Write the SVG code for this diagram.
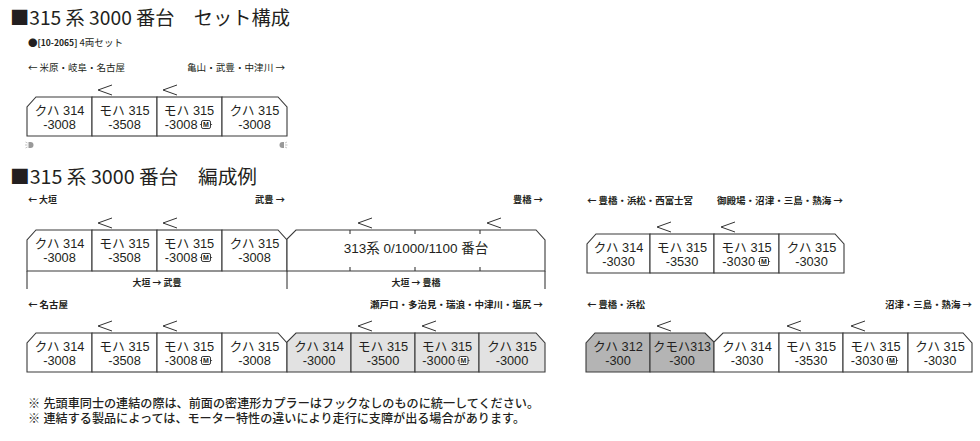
<svg xmlns="http://www.w3.org/2000/svg" width="980" height="441" viewBox="0 0 980 441">
<defs>
<style>
text{font-family:"Noto Sans CJK JP","Noto Sans CJK SC",sans-serif;fill:#231f20}
.ttl{font-size:19px}
.lbl{font-size:9.5px}
.lblb{font-size:9px;font-weight:bold}
.note{font-family:"Liberation Sans","Noto Sans CJK JP",sans-serif;font-size:12px;font-weight:500}
.car{fill:#fff;stroke:#3a3a3a;stroke-width:1.1}
.lg{fill:#e2e2e2}
.dg{fill:#b4b4b4}
.ct,.ce{font-family:"Liberation Sans","Noto Sans CJK JP",sans-serif;font-size:12.8px}
.ct{text-anchor:middle}
.ce{text-anchor:end}
.pan{fill:none;stroke:#333;stroke-width:1}
.ln{fill:none;stroke:#3a3a3a;stroke-width:1.1}
</style>
<g id="mi">
<rect x="0" y="0" width="9" height="8" rx="1.6" fill="#fff" stroke="#333" stroke-width="1"/>
<line x1="-1.6" y1="4" x2="0" y2="4" stroke="#333" stroke-width="0.8"/>
<line x1="9" y1="4" x2="10.6" y2="4" stroke="#333" stroke-width="0.8"/>
<text x="4.5" y="6.8" style="font-family:'Liberation Sans',sans-serif;font-size:7px;font-weight:bold;text-anchor:middle">M</text>
</g>
<path id="pan" class="pan" d="M14,0 L0,5 L14,10"/>
</defs>
<rect width="980" height="441" fill="#fff"/>

<g id="titles">
<text class="ttl" x="10" y="25" textLength="280" lengthAdjust="spacingAndGlyphs">■315 系 3000 番台　セット構成</text>
<text class="ttl" x="10" y="184" textLength="247" lengthAdjust="spacingAndGlyphs">■315 系 3000 番台　編成例</text>
<text class="lbl" x="28" y="46" textLength="95" lengthAdjust="spacingAndGlyphs">●<tspan font-weight="bold" font-size="8.5">[10-2065]</tspan> 4両セット</text>
</g>
<g id="labels">
<text class="lbl" x="28" y="71" textLength="97" lengthAdjust="spacingAndGlyphs">← 米原・岐阜・名古屋</text>
<text class="lbl" x="187" y="71" textLength="98" lengthAdjust="spacingAndGlyphs">亀山・武豊・中津川 →</text>
<text class="lblb" x="28" y="203" textLength="29" lengthAdjust="spacingAndGlyphs">← 大垣</text>
<text class="lblb" x="255" y="203" textLength="30" lengthAdjust="spacingAndGlyphs">武豊 →</text>
<text class="lblb" x="513" y="203" textLength="30" lengthAdjust="spacingAndGlyphs">豊橋 →</text>
<text class="lblb" x="587" y="204" textLength="106" lengthAdjust="spacingAndGlyphs">← 豊橋・浜松・西富士宮</text>
<text class="lblb" x="717" y="204" textLength="126" lengthAdjust="spacingAndGlyphs">御殿場・沼津・三島・熱海 →</text>
<text class="lblb" x="28" y="308" textLength="40" lengthAdjust="spacingAndGlyphs">← 名古屋</text>
<text class="lblb" x="370" y="308" textLength="173" lengthAdjust="spacingAndGlyphs">瀬戸口・多治見・瑞浪・中津川・塩尻 →</text>
<text class="lblb" x="587" y="308" textLength="58" lengthAdjust="spacingAndGlyphs">← 豊橋・浜松</text>
<text class="lblb" x="885" y="308" textLength="87" lengthAdjust="spacingAndGlyphs">沼津・三島・熱海 →</text>
</g>

<g id="setA">
<g id="A1"><path class="car" d="M27,136 V107 L36,97 H92 V136 Z"/><text class="ct" x="59.5" y="115">クハ 314</text><text class="ct" x="59.5" y="129">-3008</text></g>
<g id="A2"><rect class="car" x="92" y="97" width="65" height="39"/><use href="#pan" x="98" y="85"/><text class="ct" x="124.5" y="115">モハ 315</text><text class="ct" x="124.5" y="129">-3508</text></g>
<g id="A3"><rect class="car" x="157" y="97" width="65" height="39"/><use href="#pan" x="163" y="85"/><text class="ct" x="189" y="115">モハ 315</text><text class="ce" x="197.5" y="129">-3008</text><use href="#mi" x="201.5" y="120.5"/></g>
<g id="A4"><path class="car" d="M222,97 H278 L287,107 V136 H222 Z"/><text class="ct" x="254.5" y="115">クハ 315</text><text class="ct" x="254.5" y="129">-3008</text></g>
<g id="lamps">
<path d="M28.5,142 h2 a3,3 0 0 1 0,6 h-2 Z" fill="#999"/>
<path d="M27.5,143 l-2,-1 M27.5,145 h-2.5 M27.5,147 l-2,1" stroke="#aaa" stroke-width="0.7"/>
<path d="M284,142 h-1.5 a3,3 0 0 0 0,6 h1.5 Z" fill="#999"/>
<path d="M285,143 l2,-1 M285,145 h2.5 M285,147 l2,1" stroke="#aaa" stroke-width="0.7"/>
</g>
</g>

<g id="exB">
<g id="B1"><path class="car" d="M27,271 V240 L36,230 H92 V271 Z"/><text class="ct" x="59.5" y="248">クハ 314</text><text class="ct" x="59.5" y="262">-3008</text></g>
<g id="B2"><rect class="car" x="92" y="230" width="65" height="41"/><use href="#pan" x="98" y="218"/><text class="ct" x="124.5" y="248">モハ 315</text><text class="ct" x="124.5" y="262">-3508</text></g>
<g id="B3"><rect class="car" x="157" y="230" width="65" height="41"/><use href="#pan" x="163" y="218"/><text class="ct" x="189" y="248">モハ 315</text><text class="ce" x="197.5" y="262">-3008</text><use href="#mi" x="201.5" y="253.5"/></g>
<g id="B4"><path class="car" d="M222,230 H278 L287,240 V271 H222 Z"/><text class="ct" x="254.5" y="248">クハ 315</text><text class="ct" x="254.5" y="262">-3008</text></g>
<g id="B5"><path class="car" d="M287,271 V239 L296,230 H536 L545,240 V271 Z"/>
<path class="ln" d="M350,230 v4 M415,230 v4 M480,230 v4 M350,271 v-4 M415,271 v-4 M480,271 v-4"/>
<use href="#pan" x="358" y="218"/><use href="#pan" x="487" y="218"/>
<text class="ct" x="416" y="253" style="font-size:13.5px">313系 0/1000/1100 番台</text></g>
</g>
<g id="connectors">
<path class="ln" d="M27,271 V289 M287,271 V289 M545,271 V289"/>
<text class="lblb" x="157" y="286" text-anchor="middle">大垣 → 武豊</text>
<text class="lblb" x="416" y="286" text-anchor="middle">大垣 → 豊橋</text>
</g>

<g id="exC">
<g id="C1"><path class="car" d="M587,273 V244 L596,234 H650 V273 Z"/><text class="ct" x="618.5" y="252">クハ 314</text><text class="ct" x="618.5" y="266">-3030</text></g>
<g id="C2"><rect class="car" x="650" y="234" width="64" height="39"/><use href="#pan" x="657" y="222"/><text class="ct" x="682" y="252">モハ 315</text><text class="ct" x="682" y="266">-3530</text></g>
<g id="C3"><rect class="car" x="714" y="234" width="65" height="39"/><use href="#pan" x="721" y="222"/><text class="ct" x="746.5" y="252">モハ 315</text><text class="ce" x="755" y="266">-3030</text><use href="#mi" x="759.5" y="257.5"/></g>
<g id="C4"><path class="car" d="M779,234 H835 L844,244 V273 H779 Z"/><text class="ct" x="811.5" y="252">クハ 315</text><text class="ct" x="811.5" y="266">-3030</text></g>
</g>

<g id="exD">
<g id="D1"><path class="car" d="M27,372 V343 L36,333 H92 V372 Z"/><text class="ct" x="59.5" y="351">クハ 314</text><text class="ct" x="59.5" y="365">-3008</text></g>
<g id="D2"><rect class="car" x="92" y="333" width="65" height="39"/><use href="#pan" x="98" y="321"/><text class="ct" x="124.5" y="351">モハ 315</text><text class="ct" x="124.5" y="365">-3508</text></g>
<g id="D3"><rect class="car" x="157" y="333" width="65" height="39"/><use href="#pan" x="163" y="321"/><text class="ct" x="189" y="351">モハ 315</text><text class="ce" x="197.5" y="365">-3008</text><use href="#mi" x="201.5" y="356.5"/></g>
<g id="D4"><path class="car" d="M222,333 H278 L287,343 V372 H222 Z"/><text class="ct" x="254.5" y="351">クハ 315</text><text class="ct" x="254.5" y="365">-3008</text></g>
<g id="D5"><path class="car lg" d="M287,372 V342 L296,333 H351 V372 Z"/><text class="ct" x="319" y="351">クハ 314</text><text class="ct" x="319" y="365">-3000</text></g>
<g id="D6"><rect class="car lg" x="351" y="333" width="64" height="39"/><use href="#pan" x="358" y="321"/><text class="ct" x="383" y="351">モハ 315</text><text class="ct" x="383" y="365">-3500</text></g>
<g id="D7"><rect class="car lg" x="415" y="333" width="64" height="39"/><use href="#pan" x="422" y="321"/><text class="ct" x="447" y="351">モハ 315</text><text class="ce" x="455" y="365">-3000</text><use href="#mi" x="459" y="356.5"/></g>
<g id="D8"><path class="car lg" d="M479,333 H536 L545,343 V372 H479 Z"/><text class="ct" x="512" y="351">クハ 315</text><text class="ct" x="512" y="365">-3000</text></g>
</g>

<g id="exE">
<g id="E1"><path class="car dg" d="M586,372 V343 L595,333 H650 V372 Z"/><text class="ct" x="618" y="351">クハ 312</text><text class="ct" x="618" y="365">-300</text></g>
<g id="E2"><path class="car dg" d="M650,333 H705 L714,342 V372 H650 Z"/><use href="#pan" x="657" y="321"/><text class="ct" x="682" y="351" textLength="58" lengthAdjust="spacingAndGlyphs">クモハ313</text><text class="ct" x="682" y="365">-300</text></g>
<g id="E3"><path class="car" d="M714,372 V342 L723,333 H779 V372 Z"/><text class="ct" x="747" y="351">クハ 314</text><text class="ct" x="747" y="365">-3030</text></g>
<g id="E4"><rect class="car" x="779" y="333" width="64" height="39"/><use href="#pan" x="787" y="321"/><text class="ct" x="811" y="351">モハ 315</text><text class="ct" x="811" y="365">-3530</text></g>
<g id="E5"><rect class="car" x="843" y="333" width="65" height="39"/><use href="#pan" x="851" y="321"/><text class="ct" x="875.5" y="351">モハ 315</text><text class="ce" x="883.5" y="365">-3030</text><use href="#mi" x="887.5" y="356.5"/></g>
<g id="E6"><path class="car" d="M908,333 H963 L972,343 V372 H908 Z"/><text class="ct" x="940" y="351">クハ 315</text><text class="ct" x="940" y="365">-3030</text></g>
</g>

<g id="notes">
<text class="note" x="28" y="408" textLength="511" lengthAdjust="spacingAndGlyphs">※ 先頭車同士の連結の際は、前面の密連形カプラーはフックなしのものに統一してください。</text>
<text class="note" x="28" y="423" textLength="497" lengthAdjust="spacingAndGlyphs">※ 連結する製品によっては、モーター特性の違いにより走行に支障が出る場合があります。</text>
</g>
</svg>
